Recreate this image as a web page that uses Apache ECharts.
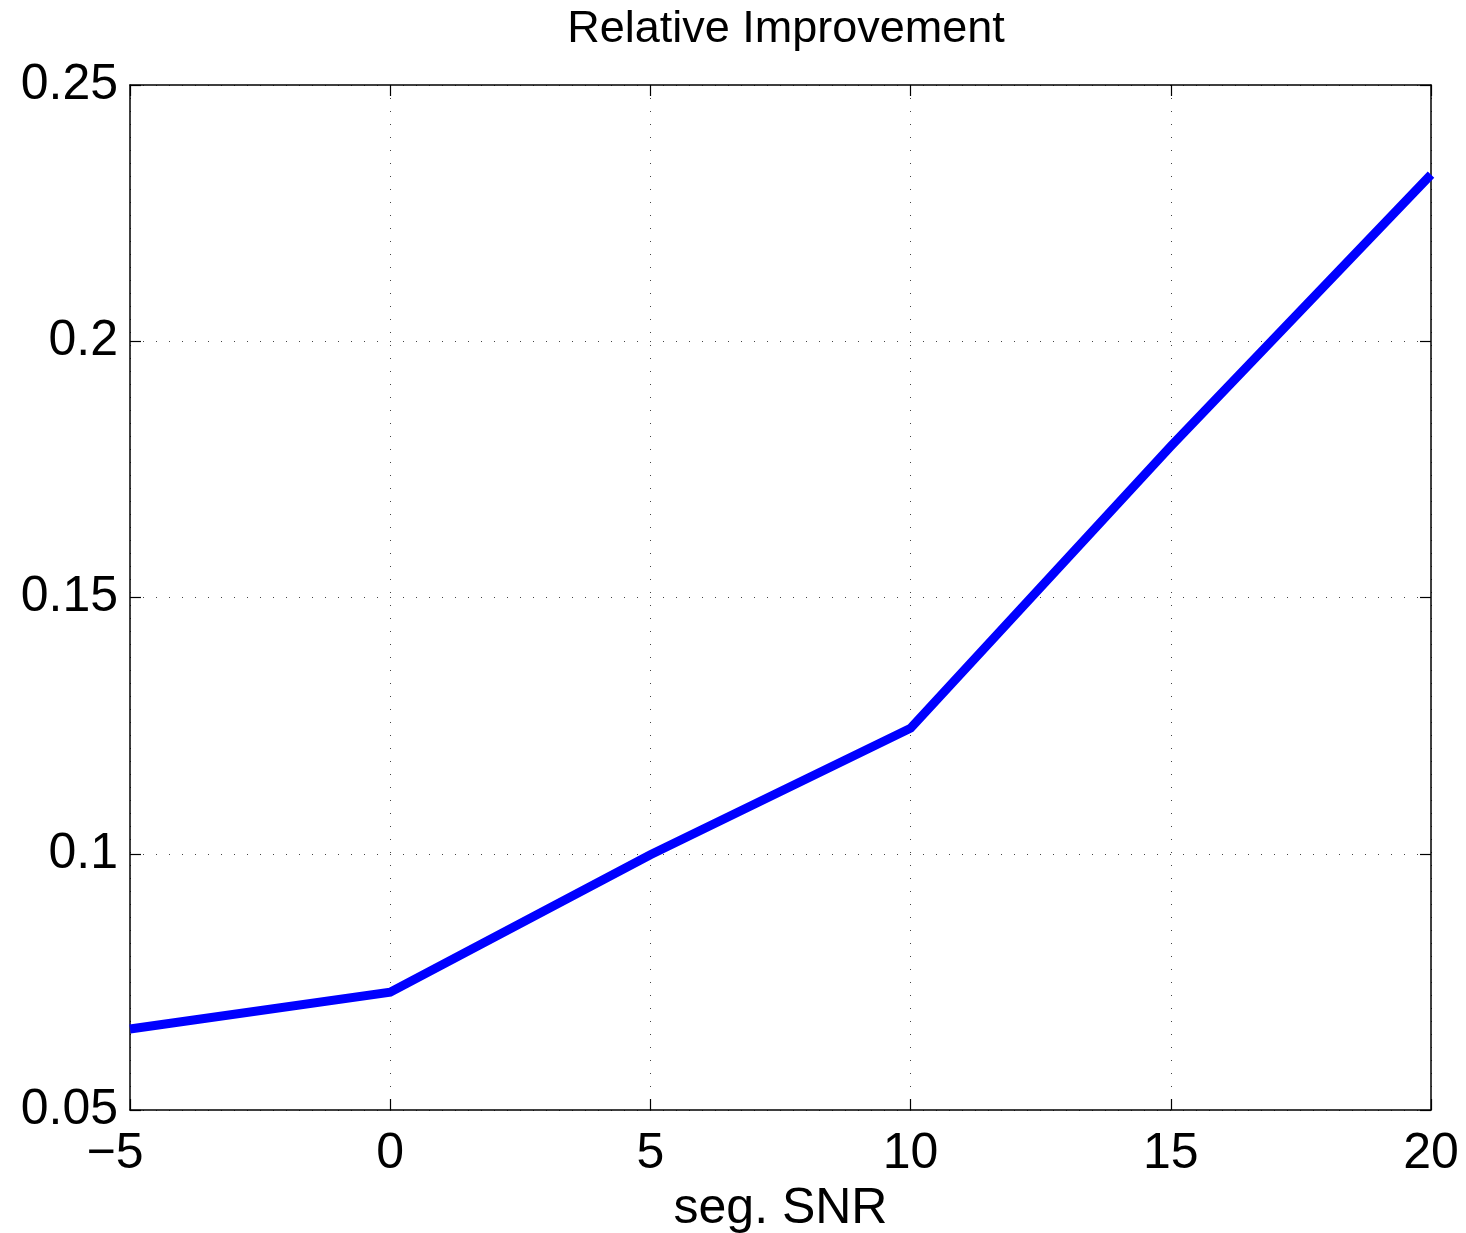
<!DOCTYPE html>
<html>
<head>
<meta charset="utf-8">
<title>Relative Improvement</title>
<script src="https://cdn.jsdelivr.net/npm/echarts@6/dist/echarts.min.js"></script>
<style>
  html, body { margin: 0; padding: 0; background: #fff; overflow: hidden; }
  #chart { width: 1466px; height: 1233px; }
</style>
</head>
<body>
<div id="chart"></div>
<script>
// Segmental SNR (dB) and the relative improvement measured at each level
const snrLevels = [-5, 0, 5, 10, 15, 20];
const improvement = [0.0658, 0.0730, 0.0998, 0.1245, 0.1795, 0.2325];
const xTicks = [-5, 0, 5, 10, 15, 20];
const yTicks = [0.05, 0.1, 0.15, 0.2, 0.25];

const FONT = '"Liberation Sans", Arial, Helvetica, sans-serif';
const chart = echarts.init(document.getElementById('chart'), null, { renderer: 'canvas' });

const boxLine = { show: true, onZero: false, lineStyle: { color: '#000', width: 1.5 } };
const inTick = { show: true, inside: true, length: 11, lineStyle: { color: '#000', width: 1.2 } };
const grid = { show: true, lineStyle: { color: '#444', width: 1, type: [1, 12] } };

chart.setOption({
  animation: false,
  backgroundColor: '#fff',
  title: {
    text: 'Relative Improvement',
    left: 781,
    textAlign: 'center',
    top: 2,
    textStyle: { fontFamily: FONT, fontSize: 45, fontWeight: 'normal', color: '#000' }
  },
  grid: { left: 130, right: 35, top: 85, bottom: 123, containLabel: false, outerBoundsMode: 'none' },
  xAxis: [
    {
      type: 'value',
      min: xTicks[0],
      max: xTicks[xTicks.length - 1],
      interval: 5,
      name: 'seg. SNR',
      nameLocation: 'middle',
      nameGap: 72,
      nameTextStyle: { fontFamily: FONT, fontSize: 50, color: '#000' },
      axisLine: boxLine,
      axisTick: inTick,
      splitLine: grid,
      axisLabel: {
        fontFamily: FONT, fontSize: 50, color: '#000', margin: 19,
        // negative labels sit with their digit under the tick, the minus hanging left
        formatter: v => v < 0 ? '{neg|' + String(v).replace('-', '\u2212') + '}' : String(v),
        rich: {
          neg: { fontFamily: FONT, fontSize: 50, color: '#000', padding: [0, 30, 0, 0] }
        }
      }
    },
    {
      type: 'value',
      position: 'top',
      min: xTicks[0],
      max: xTicks[xTicks.length - 1],
      interval: 5,
      axisLine: boxLine,
      axisTick: inTick,
      axisLabel: { show: false },
      splitLine: { show: false }
    }
  ],
  yAxis: [
    {
      type: 'value',
      min: yTicks[0],
      max: yTicks[yTicks.length - 1],
      interval: 0.05,
      axisLine: boxLine,
      axisTick: inTick,
      splitLine: grid,
      axisLabel: {
        fontFamily: FONT, fontSize: 50, color: '#000', margin: 12,
        formatter: v => String(+v.toFixed(2))
      }
    },
    {
      type: 'value',
      position: 'right',
      min: yTicks[0],
      max: yTicks[yTicks.length - 1],
      interval: 0.05,
      axisLine: boxLine,
      axisTick: inTick,
      axisLabel: { show: false },
      splitLine: { show: false }
    }
  ],
  series: [
    {
      type: 'line',
      data: snrLevels.map((x, i) => [x, improvement[i]]),
      symbol: 'none',
      lineStyle: { color: '#0000ff', width: 9, cap: 'butt', join: 'miter' },
      z: 3
    }
  ]
});
</script>
</body>
</html>
